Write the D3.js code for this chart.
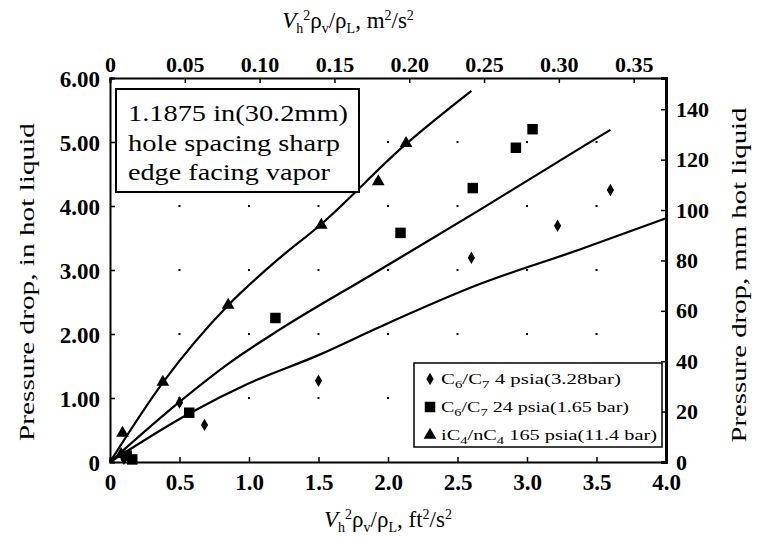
<!DOCTYPE html>
<html><head><meta charset="utf-8">
<script src="https://cdn.jsdelivr.net/npm/d3@7"></script>
<style>
html,body{margin:0;padding:0;background:#fff;}
svg{display:block;}
</style></head>
<body>
<svg id="chart" width="762" height="538"></svg>
<script>
// ---- data (x: Vh^2 rho_v/rho_L, ft^2/s^2 ; y: pressure drop, in hot liquid) ----
const xTicks = [0, 0.5, 1.0, 1.5, 2.0, 2.5, 3.0, 3.5, 4.0];
const xTickLabels = ["0", "0.5", "1.0", "1.5", "2.0", "2.5", "3.0", "3.5", "4.0"];
const yTicks = [0, 1, 2, 3, 4, 5, 6];
const yTickLabels = ["0", "1.00", "2.00", "3.00", "4.00", "5.00", "6.00"];
const topTicks = [0, 0.05, 0.10, 0.15, 0.20, 0.25, 0.30, 0.35];
const topTickLabels = ["0", "0.05", "0.10", "0.15", "0.20", "0.25", "0.30", "0.35"];
const rightTicks = [0, 20, 40, 60, 80, 100, 120, 140];

const diamondX = [0.10, 0.50, 0.68, 1.50, 2.60, 3.22, 3.60];
const diamondY = [0.05, 0.93, 0.58, 1.27, 3.19, 3.69, 4.25];
const squareX = [0.12, 0.16, 0.57, 1.19, 2.09, 2.61, 2.92, 3.04];
const squareY = [0.10, 0.04, 0.77, 2.25, 3.58, 4.28, 4.91, 5.20];
const triangleX = [0.08, 0.09, 0.38, 0.85, 1.52, 1.93, 2.13];
const triangleY = [0.12, 0.45, 1.25, 2.45, 3.70, 4.38, 4.98];

const lineTriX = [0, 0.38, 0.85, 1.20, 1.50, 2.13, 2.60];
const lineTriY = [0, 1.24, 2.45, 3.15, 3.68, 4.97, 5.80];
const lineSqX = [0, 0.50, 0.86, 1.20, 1.90, 2.66, 3.38, 3.60];
const lineSqY = [0, 0.94, 1.55, 2.04, 2.95, 3.94, 4.90, 5.19];
const lineDiaX = [0, 0.58, 1.00, 1.50, 1.94, 2.66, 3.38, 4.00];
const lineDiaY = [0, 0.77, 1.23, 1.67, 2.11, 2.78, 3.32, 3.81];

const legendLabels = [
  [["C",0],["6",1],["/C",0],["7",1],[" 4 psia(3.28bar)",0]],
  [["C",0],["6",1],["/C",0],["7",1],[" 24 psia(1.65 bar)",0]],
  [["iC",0],["4",1],["/nC",0],["4",1],["  165 psia(11.4 bar)",0]]
];
const noteLines = ["1.1875 in(30.2mm)", "hole spacing sharp", "edge facing vapor"];

const SERIF = '"Liberation Serif","DejaVu Serif",serif';

// ---- scales ----
const svg = d3.select("#chart");
const x = d3.scaleLinear().domain([0, 4]).range([110, 666]);
const y = d3.scaleLinear().domain([0, 6]).range([462, 78]);
const xTop = d3.scaleLinear().domain([0, 4 * 0.09290304]).range([110, 666]);
const yRight = d3.scaleLinear().domain([0, 6 * 25.4]).range([462, 78]);

// grid dots
const dots = [];
xTicks.slice(1, -1).forEach(a => yTicks.slice(1, -1).forEach(b => dots.push([a, b])));
svg.append("g").selectAll("rect").data(dots).join("rect")
  .attr("x", d => x(d[0]) - 1).attr("y", d => y(d[1]) - 1)
  .attr("width", 2).attr("height", 2).attr("fill", "#000");

// axes
function styleAxis(g, fs) {
  g.select(".domain").attr("stroke", "#000").attr("stroke-width", 2);
  g.selectAll(".tick line").attr("stroke", "#000").attr("stroke-width", 1.5);
  g.selectAll("text").style("font-size", fs).style("font-family", SERIF).style("font-weight", "bold").attr("fill", "#000");
}
const gB = svg.append("g").attr("transform", "translate(0,462)")
  .call(d3.axisBottom(x).tickValues(xTicks).tickFormat((d, i) => xTickLabels[i]).tickSize(-5).tickPadding(12));
styleAxis(gB, "23px");
const gL = svg.append("g").attr("transform", "translate(110,0)")
  .call(d3.axisLeft(y).tickValues(yTicks).tickFormat((d, i) => yTickLabels[i]).tickSize(-5).tickPadding(10));
styleAxis(gL, "23px");
gL.selectAll("text").attr("dy", "0.36em");
const gT = svg.append("g").attr("transform", "translate(0,78)")
  .call(d3.axisTop(xTop).tickValues(topTicks).tickFormat((d, i) => topTickLabels[i]).tickSize(-5).tickPadding(6));
styleAxis(gT, "22px");
const gR = svg.append("g").attr("transform", "translate(666,0)")
  .call(d3.axisRight(yRight).tickValues(rightTicks).tickSize(-5).tickPadding(10));
styleAxis(gR, "22px");
gR.select(".domain").attr("stroke-width", 3);

// curves
const lineGen = d3.line().x(d => x(d[0])).y(d => y(d[1])).curve(d3.curveMonotoneX);
[[lineTriX, lineTriY], [lineSqX, lineSqY], [lineDiaX, lineDiaY]].forEach(([xs, ys]) => {
  svg.append("path").datum(xs.map((v, i) => [v, ys[i]]))
    .attr("d", lineGen).attr("fill", "none").attr("stroke", "#000").attr("stroke-width", 2.2);
});

// markers
const symDia = d3.symbol().type(d3.symbolDiamond).size(45);
const symSq = d3.symbol().type(d3.symbolSquare).size(110);
const symTri = d3.symbol().type(d3.symbolTriangle).size(70);
function pts(xs, ys, sym) {
  svg.append("g").selectAll("path").data(xs.map((v, i) => [v, ys[i]])).join("path")
    .attr("transform", d => `translate(${x(d[0])},${y(d[1])})`).attr("d", sym).attr("fill", "#000");
}
pts(diamondX, diamondY, symDia);
pts(squareX, squareY, symSq);
pts(triangleX, triangleY, symTri);

// annotation box
svg.append("rect").attr("x", 116).attr("y", 89).attr("width", 243).attr("height", 103)
  .attr("fill", "#fff").attr("stroke", "#000").attr("stroke-width", 2);
const noteW = [220, 212, 202];
noteLines.forEach((t, i) => {
  svg.append("text").attr("x", 128).attr("y", 121 + i * 29.5)
    .style("font-family", SERIF).style("font-size", "23px")
    .attr("textLength", noteW[i]).attr("lengthAdjust", "spacingAndGlyphs").text(t);
});

// legend
svg.append("rect").attr("x", 414).attr("y", 363).attr("width", 248).attr("height", 84)
  .attr("fill", "#fff").attr("stroke", "#000").attr("stroke-width", 1.5);
const legSyms = [symDia, symSq, symTri];
const legW = [180, 188, 216];
legendLabels.forEach((parts, i) => {
  const yy = 379 + i * 28;
  svg.append("path").attr("transform", `translate(430,${yy})`).attr("d", legSyms[i]).attr("fill", "#000");
  const t = svg.append("text").attr("x", 441).attr("y", yy + 5)
    .style("font-family", SERIF).style("font-size", "14px")
    .attr("textLength", legW[i]).attr("lengthAdjust", "spacingAndGlyphs");
  parts.forEach(([s, sub], j) => {
    const ts = t.append("tspan").text(s);
    if (sub) ts.style("font-size", "10px").attr("dy", "4");
    else ts.attr("dy", j > 0 ? "-4" : "0");
  });
});

// axis titles
function vTitle(sel, unit) {
  const t = sel.style("font-family", SERIF).style("font-size", "23px");
  t.append("tspan").style("font-style", "italic").text("V");
  t.append("tspan").style("font-size", "14px").attr("dy", 5).text("h");
  t.append("tspan").style("font-size", "14px").attr("dy", -13).text("2");
  t.append("tspan").attr("dy", 8).text("ρ");
  t.append("tspan").style("font-size", "14px").attr("dy", 5).text("v");
  t.append("tspan").attr("dy", -5).text("/ρ");
  t.append("tspan").style("font-size", "14px").attr("dy", 5).text("L");
  t.append("tspan").attr("dy", -5).text(", " + unit[0]);
  t.append("tspan").style("font-size", "14px").attr("dy", -8).text("2");
  t.append("tspan").attr("dy", 8).text("/" + unit[1]);
  t.append("tspan").style("font-size", "14px").attr("dy", -8).text("2");
}
vTitle(svg.append("text").attr("x", 348).attr("y", 28).attr("text-anchor", "middle"), ["m", "s"]);
vTitle(svg.append("text").attr("x", 388).attr("y", 527).attr("text-anchor", "middle"), ["ft", "s"]);

svg.append("text").attr("transform", "translate(34,282) rotate(-90)").attr("text-anchor", "middle")
  .style("font-family", SERIF).style("font-size", "22px")
  .attr("textLength", 318).attr("lengthAdjust", "spacingAndGlyphs").text("Pressure drop, in hot liquid");
svg.append("text").attr("transform", "translate(746,275) rotate(-90)").attr("text-anchor", "middle")
  .style("font-family", SERIF).style("font-size", "22px")
  .attr("textLength", 335).attr("lengthAdjust", "spacingAndGlyphs").text("Pressure drop, mm hot liquid");
</script>
</body></html>
